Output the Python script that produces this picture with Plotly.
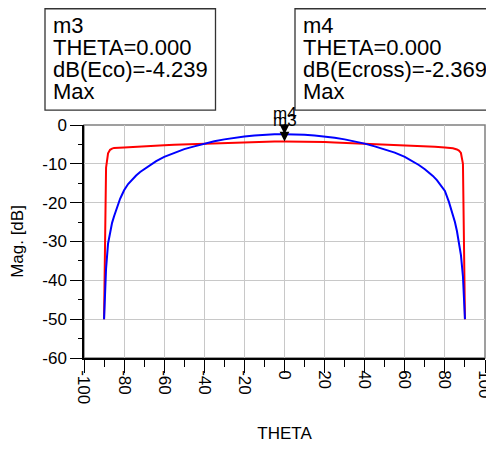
import plotly.graph_objects as go

# ---------------- data ----------------
theta_eco = [-90, -89, -88, -87, -86, -85, -80, -75, -70, -65, -60, -55, -50, -45,
             -40, -35, -30, -25, -20, -15, -10, -5, 0, 5, 10, 15, 20, 25, 30, 35,
             40, 45, 50, 55, 60, 65, 70, 75, 80, 84, 86, 87, 88, 89, 90]
eco_db = [-50, -11, -7.3, -6.4, -6.1, -5.9, -5.8, -5.6, -5.5, -5.3, -5.2, -5.1, -5.0, -4.9,
          -4.8, -4.7, -4.6, -4.5, -4.4, -4.35, -4.3, -4.25, -4.239, -4.25, -4.3, -4.35, -4.4, -4.5, -4.6, -4.7,
          -4.8, -4.9, -5.0, -5.1, -5.2, -5.4, -5.5, -5.6, -5.8, -6.0, -6.3, -6.6, -7.2, -10, -50]

theta_cross = [-90, -89, -88, -87, -86, -85, -84, -83, -82, -81, -80, -78, -76, -74, -72, -70,
               -67, -64, -60, -55, -50, -45, -40, -35, -30, -25, -20, -15, -10, -5, 0,
               5, 10, 15, 20, 25, 30, 35, 40, 45, 50, 55, 60, 64, 67, 70, 72, 74, 76, 78,
               80, 82, 84, 85, 86, 87, 88, 89, 90]
cross_db = [-50, -37, -30.5, -27.5, -25.2, -23.5, -21.8, -20.2, -19.0, -17.9, -16.8, -15.2, -14.0, -13.0, -12.1, -11.4,
            -10.3, -9.3, -8.2, -7.1, -6.2, -5.5, -4.8, -4.2, -3.7, -3.3, -2.95, -2.7, -2.5, -2.4, -2.369,
            -2.4, -2.5, -2.7, -2.95, -3.3, -3.7, -4.2, -4.8, -5.5, -6.2, -7.1, -8.2, -9.3, -10.3, -11.4, -12.2, -13.1, -14.2, -15.5,
            -17.0, -19.8, -23.0, -25.0, -27.3, -30.0, -33.5, -39.0, -50]

x_ticks = [-100, -80, -60, -40, -20, 0, 20, 40, 60, 80, 100]
y_ticks = [0, -10, -20, -30, -40, -50, -60]

m3_lines = ["m3", "THETA=0.000", "dB(Eco)=-4.239", "Max"]
m4_lines = ["m4", "THETA=0.000", "dB(Ecross)=-2.369", "Max"]
m3_point = (0.0, -4.239)
m4_point = (0.0, -2.369)

# ---------------- layout geometry ----------------
OFF = 8  # page body margin
W, H = 494, 450
PW, PH = 401, 233.5
L = 84 - OFF
T = 125 - OFF
R = W - L - PW
B = H - T - PH


def px(xs):
    return (xs - OFF - L) / PW


def py(ys):
    return (T + PH - (ys - OFF)) / PH


FONT = "Liberation Sans, Arial, sans-serif"

fig = go.Figure()
fig.add_trace(go.Scatter(x=theta_eco, y=eco_db, mode="lines",
                         line=dict(color="#ff0000", width=2), name="dB(Eco)"))
fig.add_trace(go.Scatter(x=theta_cross, y=cross_db, mode="lines",
                         line=dict(color="#0000ff", width=2), name="dB(Ecross)"))

annotations = []
# marker arrows (m4 first so m3 is drawn on top)
for label, (mx, my) in (("m4", m4_point), ("m3", m3_point)):
    annotations.append(dict(x=mx, y=my, xref="x", yref="y", text=label,
                            showarrow=True, arrowhead=2, arrowsize=1.3, arrowwidth=1.5,
                            arrowcolor="black", ax=0, ay=-21, standoff=0,
                            font=dict(family=FONT, size=17, color="black")))

# marker readout boxes
line_baselines = [32.5, 54.8, 77.0, 99.2]
for lines, x_left in ((m3_lines, 50.5), (m4_lines, 300.5)):
    for txt, bl in zip(lines, line_baselines):
        annotations.append(dict(x=px(x_left), y=py(bl - 7.6), xref="paper", yref="paper",
                                text=txt, showarrow=False, xanchor="left", yanchor="middle",
                                font=dict(family=FONT, size=22, color="black")))

shapes = [
    dict(type="rect", xref="paper", yref="paper", x0=0, x1=1, y0=0, y1=1,
         line=dict(color="#808080", width=1.5), layer="below"),
    dict(type="rect", xref="paper", yref="paper", x0=px(45), x1=px(215.5), y0=py(110), y1=py(8.5),
         line=dict(color="#333333", width=1.3)),
    dict(type="rect", xref="paper", yref="paper", x0=px(295), x1=px(530), y0=py(110), y1=py(8.5),
         line=dict(color="#333333", width=1.3)),
]

fig.update_layout(
    width=W, height=H,
    margin=dict(l=L, r=R, t=T, b=B, pad=0),
    paper_bgcolor="white", plot_bgcolor="white",
    showlegend=False,
    font=dict(family=FONT, size=17, color="black"),
    annotations=annotations,
    shapes=shapes,
)
fig.update_xaxes(
    range=[-100, 100], tickmode="array", tickvals=x_ticks, ticktext=[str(v) for v in x_ticks],
    tickangle=90, ticks="outside", ticklen=13, tickwidth=1, tickcolor="black",
    ticklabelstandoff=-6,
    minor=dict(dtick=10, ticks="outside", ticklen=7, tickcolor="black", showgrid=False),
    showgrid=True, gridcolor="#c8c8c8", gridwidth=1, zeroline=False,
    showline=True, linecolor="black", linewidth=1.5,
    tickfont=dict(family=FONT, size=17),
    title=dict(text="THETA", font=dict(family=FONT, size=17), standoff=24),
    automargin=False,
)
fig.update_yaxes(
    range=[-60, 0], tickmode="array", tickvals=y_ticks, ticktext=[str(v) for v in y_ticks],
    ticks="outside", ticklen=12, tickwidth=1, tickcolor="black",
    minor=dict(dtick=5, ticks="outside", ticklen=4, tickcolor="black", showgrid=False),
    showgrid=True, gridcolor="#c8c8c8", gridwidth=1, zeroline=False,
    showline=True, linecolor="black", linewidth=1.5,
    tickfont=dict(family=FONT, size=17),
    title=dict(text="Mag. [dB]", font=dict(family=FONT, size=17), standoff=14),
    automargin=False,
)

fig.write_html("out.html")
